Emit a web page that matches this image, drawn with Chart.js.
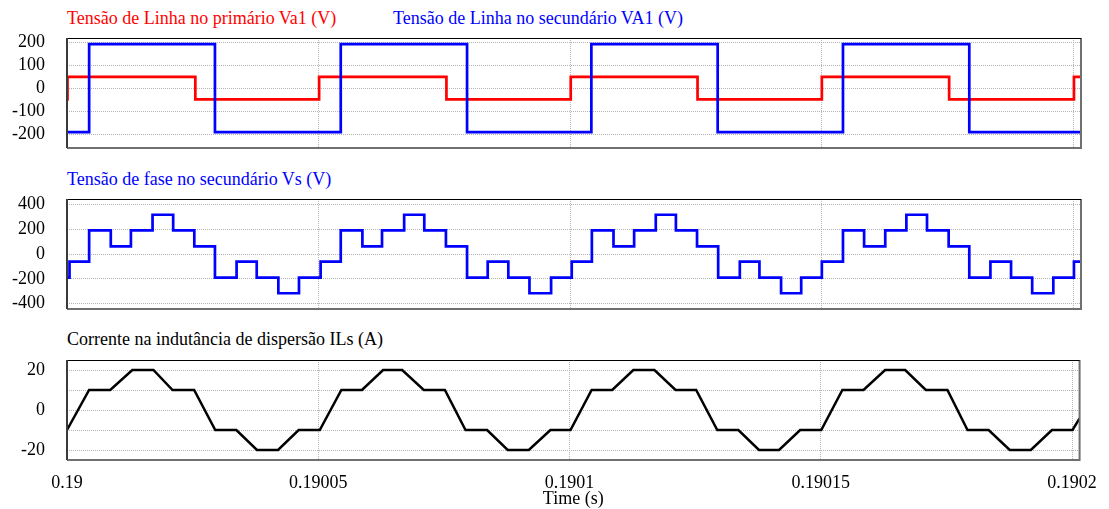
<!DOCTYPE html>
<html>
<head>
<meta charset="utf-8">
<script src="https://cdn.jsdelivr.net/npm/chart.js@4.4.0/dist/chart.umd.min.js"></script>
<style>
body{margin:0;width:1109px;height:509px;position:relative;overflow:hidden;background:#fff;font-family:'Liberation Serif',serif}
.titulo{position:absolute;font-size:18px;line-height:18px;white-space:nowrap}
canvas{position:absolute;left:0}
</style>
</head>
<body>
<div class="titulo" style="left:67px;top:9px;color:#f00">Tensão de Linha no primário Va1 (V)</div>
<div class="titulo" style="left:393px;top:9px;color:#00f">Tensão de Linha no secundário VA1 (V)</div>
<div class="titulo" style="left:67px;top:170px;color:#00f">Tensão de fase no secundário Vs (V)</div>
<div class="titulo" style="left:67px;top:330px;color:#000">Corrente na indutância de dispersão ILs (A)</div>
<canvas id="grafica_1" width="1109" height="140" style="top:24px"></canvas>
<canvas id="grafica_2" width="1109" height="140" style="top:185px"></canvas>
<canvas id="grafica_3" width="1109" height="163" style="top:346px"></canvas>
<script>
// tiempos en microsegundos contados desde t = 0.19 s
var tiempo_max = 201.5
var etiquetas_tiempo = [0.19, 0.19005, 0.1901, 0.19015, 0.1902]

// tension de linea en el primario (escalones)
var va1_prim_t = [0, 0.1, 25.5, 50.1, 75.4, 100.1, 125.3, 150.0, 175.3, 200.1, 201.5]
var va1_prim_v = [-48, 50, -48, 50, -48, 50, -48, 50, -48, 50, 50]

// tension de linea en el secundario
var va1_sec_t = [0, 4.4, 29.4, 54.4, 79.5, 104.2, 129.3, 154.2, 179.3, 201.5]
var va1_sec_v = [-190, 192, -190, 192, -190, 192, -190, 192, -190, -190]

// tension de fase en el secundario
var vs_t = [0, 0.5, 4.4, 8.7, 12.7, 17.0, 21.1, 25.3, 29.4, 33.7, 37.7, 42.0, 46.1,
    50.4, 54.4, 58.7, 62.6, 67.0, 71.0, 75.3, 79.5, 83.6, 87.7, 91.9, 96.2,
    100.3, 104.3, 108.6, 112.7, 117.0, 121.0, 125.2, 129.4, 133.7, 137.6, 141.9, 145.9,
    150.0, 154.2, 158.4, 162.6, 166.8, 170.9, 175.2, 179.3, 183.5, 187.6, 191.8, 196.0,
    200.1, 201.5]
var vs_v = [-190, -62, 190, 62, 190, 316, 190, 62, -190, -62, -190, -316, -190,
    -62, 190, 62, 190, 316, 190, 62, -190, -62, -190, -316, -190,
    -62, 190, 62, 190, 316, 190, 62, -190, -62, -190, -316, -190,
    -62, 190, 62, 190, 316, 190, 62, -190, -62, -190, -316, -190,
    -62, -62]

// corriente en la inductancia de dispersion
var ils_t = [0, 4.4, 8.6, 13.0, 17.2, 21.0, 25.3, 29.5, 33.7, 37.8, 42.0, 46.1,
    50.3, 54.6, 58.7, 62.9, 66.7, 71.0, 75.2, 79.3, 83.6, 87.7, 91.9, 96.2,
    100.2, 104.4, 108.5, 112.7, 116.9, 121.1, 125.2, 129.4, 133.6, 137.7, 141.7, 145.9,
    150.1, 154.3, 158.5, 162.8, 166.8, 170.9, 175.2, 179.2, 183.4, 187.6, 191.8, 196.0,
    200.1, 201.5]
var ils_v = [-10, 10, 10, 20, 20, 10, 10, -10, -10, -20, -20, -10,
    -10, 10, 10, 20, 20, 10, 10, -10, -10, -20, -20, -10,
    -10, 10, 10, 20, 20, 10, 10, -10, -10, -20, -20, -10,
    -10, 10, 10, 20, 20, 10, 10, -10, -10, -20, -20, -10,
    -10, -4.2]

var ticks_va1 = [-200, -100, 0, 100, 200]
var ticks_vs = [-400, -200, 0, 200, 400]
var ticks_ils = [-20, -10, 0, 10, 20]
var etiquetas_ils = ['-20', '', '0', '', '20']

var fuente = {family: "'Liberation Serif', serif", size: 18}

function puntos(t, v) {
    return t.map(function (x, i) { return {x: x, y: v[i]} })
}

// marco de cada grafica: arriba/izquierda oscuro, abajo/derecha gris
var marco = {
    id: 'marco',
    afterDraw: function (chart) {
        var a = chart.chartArea, ctx = chart.ctx
        ctx.save()
        ctx.lineWidth = 2
        ctx.strokeStyle = '#707070'
        ctx.beginPath()
        ctx.moveTo(a.right, a.top)
        ctx.lineTo(a.right, a.bottom)
        ctx.lineTo(a.left, a.bottom)
        ctx.stroke()
        ctx.lineWidth = 1
        ctx.strokeStyle = '#000'
        ctx.beginPath()
        ctx.moveTo(a.left, a.top + 0.5)
        ctx.lineTo(a.right, a.top + 0.5)
        ctx.stroke()
        ctx.lineWidth = 2
        ctx.strokeStyle = '#3a3a3a'
        ctx.beginPath()
        ctx.moveTo(a.left, a.top)
        ctx.lineTo(a.left, a.bottom)
        ctx.stroke()
        ctx.restore()
    }
}

function crear_grafica({id, series, y_min, y_max, ticks_y, etiquetas_y, con_eje_x, padding}) {
    var eje_x = {
        type: 'linear', min: 0, max: tiempo_max,
        afterBuildTicks: function (s) {
            s.ticks = etiquetas_tiempo.map(function (v) { return {value: Math.round((v - 0.19) * 1e7) / 10} })
        },
        afterFit: function (s) { s.height = con_eje_x ? 49 : 0 },
        grid: {color: '#b4b4b4', lineWidth: 1, drawTicks: false},
        border: {display: false, dash: [1, 1]},
        ticks: {
            display: con_eje_x, padding: 12, color: '#000', font: fuente, maxRotation: 0,
            callback: function (v, i) { return String(etiquetas_tiempo[i]) }
        },
        title: {display: con_eje_x, text: 'Time (s)', color: '#000', font: fuente, padding: {top: 0, bottom: -1}}
    }
    var eje_y = {
        type: 'linear', min: y_min, max: y_max,
        afterBuildTicks: function (s) {
            s.ticks = ticks_y.map(function (v) { return {value: v} })
        },
        afterFit: function (s) { s.width = 67 },
        // marcas invisibles: separan las etiquetas del marco
        grid: {color: '#b4b4b4', lineWidth: 1, drawTicks: true, tickLength: 19, tickColor: 'rgba(0,0,0,0)'},
        border: {display: false, dash: [1, 1]},
        ticks: {
            padding: 3, color: '#000', font: fuente,
            callback: function (v, i) { return etiquetas_y ? etiquetas_y[i] : String(v) }
        }
    }
    return new Chart(document.getElementById(id), {
        type: 'line',
        data: {datasets: series},
        options: {
            responsive: false,
            animation: false,
            layout: {padding: padding},
            plugins: {legend: {display: false}, tooltip: {enabled: false}},
            elements: {point: {radius: 0}, line: {tension: 0}},
            scales: {x: eje_x, y: eje_y}
        },
        plugins: [marco]
    })
}

crear_grafica({
    id: 'grafica_1', y_min: -259, y_max: 219, ticks_y: ticks_va1, con_eje_x: false,
    padding: {top: 14, bottom: 16, left: 0, right: 28},
    series: [
        {data: puntos(va1_sec_t, va1_sec_v), borderColor: '#0000ff', borderWidth: 2.7, stepped: true},
        {data: puntos(va1_prim_t, va1_prim_v), borderColor: '#ff0000', borderWidth: 2.7, stepped: true}
    ]
})

crear_grafica({
    id: 'grafica_2', y_min: -443, y_max: 443, ticks_y: ticks_vs, con_eje_x: false,
    padding: {top: 14, bottom: 16, left: 0, right: 28},
    series: [
        {data: puntos(vs_t, vs_v), borderColor: '#0000ff', borderWidth: 2.7, stepped: true}
    ]
})

crear_grafica({
    id: 'grafica_3', y_min: -25, y_max: 25, ticks_y: ticks_ils, etiquetas_y: etiquetas_ils, con_eje_x: true,
    padding: {top: 14, bottom: 0, left: 0, right: 28},
    series: [
        {data: puntos(ils_t, ils_v), borderColor: '#000000', borderWidth: 2.5}
    ]
})
</script>
</body>
</html>
